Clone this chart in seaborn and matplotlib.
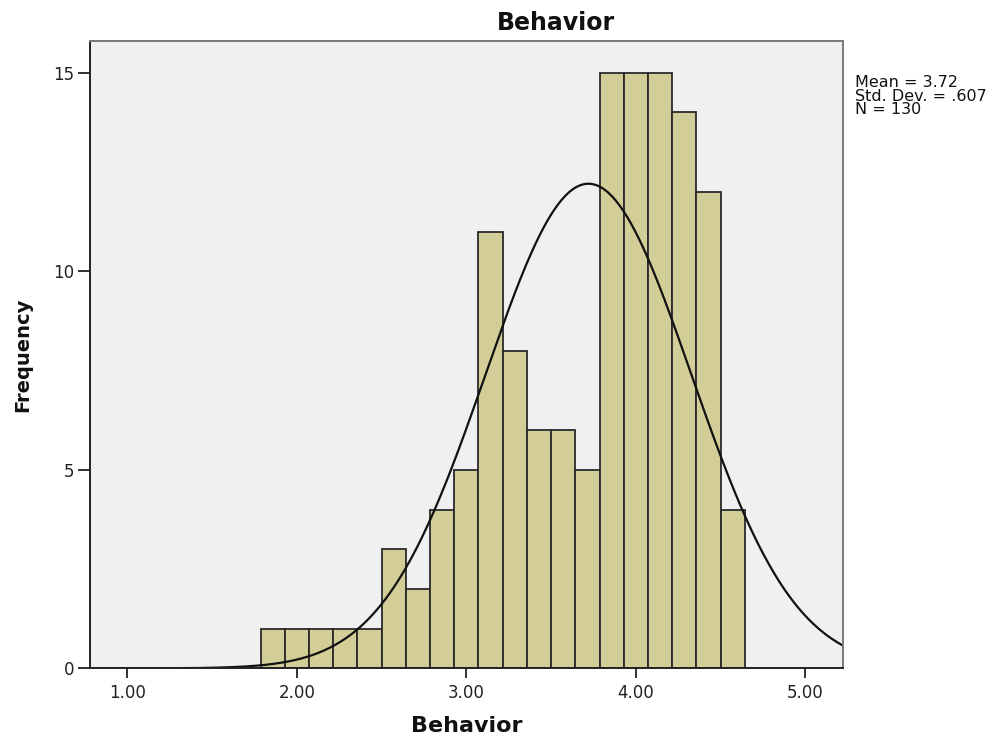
import numpy as np
import pandas as pd
import matplotlib
matplotlib.use("Agg")
import matplotlib.pyplot as plt
import seaborn as sns

# Histogram bins (width 1/7) and their frequencies
bin_start = 25 / 14
bin_width = 1 / 7
counts = [1, 1, 1, 1, 1, 3, 2, 4, 5, 11, 8, 6, 6, 5, 15, 15, 15, 14, 12, 4]

# Summary statistics
mean_val = 3.72
sd_val = 0.607
n_val = 130

x_ticks = [1.0, 2.0, 3.0, 4.0, 5.0]
x_tick_labels = ["1.00", "2.00", "3.00", "4.00", "5.00"]
y_ticks = [0, 5, 10, 15]

edges = [bin_start + bin_width * i for i in range(len(counts) + 1)]
centers = [(edges[i] + edges[i + 1]) / 2 for i in range(len(counts))]
df = pd.DataFrame({"Behavior": centers, "count": counts})

sns.set_style("white")
plt.rcParams["font.family"] = ["DejaVu Sans"]

fig = plt.figure(figsize=(9.98, 7.38), dpi=100)
ax = fig.add_axes([0.0902, 0.0944, 0.7542, 0.85])
ax.set_facecolor("#F0F0F0")

sns.histplot(data=df, x="Behavior", weights="count", bins=edges, ax=ax,
             color="#D3CE97", alpha=1.0, edgecolor="#2a2a2a", linewidth=1.3)

# Fitted normal curve scaled to frequency
xs = np.linspace(0.78, 5.22, 400)
ys = n_val * bin_width * np.exp(-0.5 * ((xs - mean_val) / sd_val) ** 2) / (sd_val * np.sqrt(2 * np.pi))
ax.plot(xs, ys, color="#111111", linewidth=1.6)

ax.set_xlim(0.78, 5.22)
ax.set_ylim(0, 15.8)
ax.set_xticks(x_ticks)
ax.set_xticklabels(x_tick_labels)
ax.set_yticks(y_ticks)
ax.tick_params(axis="both", bottom=True, left=True, direction="out", width=1.3,
               color="#222222", labelsize=12, labelcolor="#222222")
ax.tick_params(axis="y", length=8.6, pad=2.5)
ax.tick_params(axis="x", length=7.2, pad=4.3)

for side in ["left", "bottom"]:
    ax.spines[side].set_color("#222222")
    ax.spines[side].set_linewidth(1.4)
for side in ["top", "right"]:
    ax.spines[side].set_visible(True)
    ax.spines[side].set_color("#7a7a7a")
    ax.spines[side].set_linewidth(1.4)

# Chart title sits centred over the plot plus the statistics column
ax.set_title("Behavior", fontsize=17, fontweight="bold", pad=8, color="#111111", x=0.619)
ax.set_xlabel("Behavior", fontsize=16, fontweight="bold", labelpad=10, color="#111111")
ax.set_ylabel("Frequency", fontsize=14, fontweight="bold", labelpad=15.5, color="#111111")

fig.text(0.857, 0.898,
         f"Mean = {mean_val:.2f}\nStd. Dev. = {str(sd_val)[1:]}\nN = {n_val}",
         fontsize=11.5, va="top", ha="left", linespacing=0.88, color="#111111")

fig.savefig("out.png", dpi=100, facecolor="white")
